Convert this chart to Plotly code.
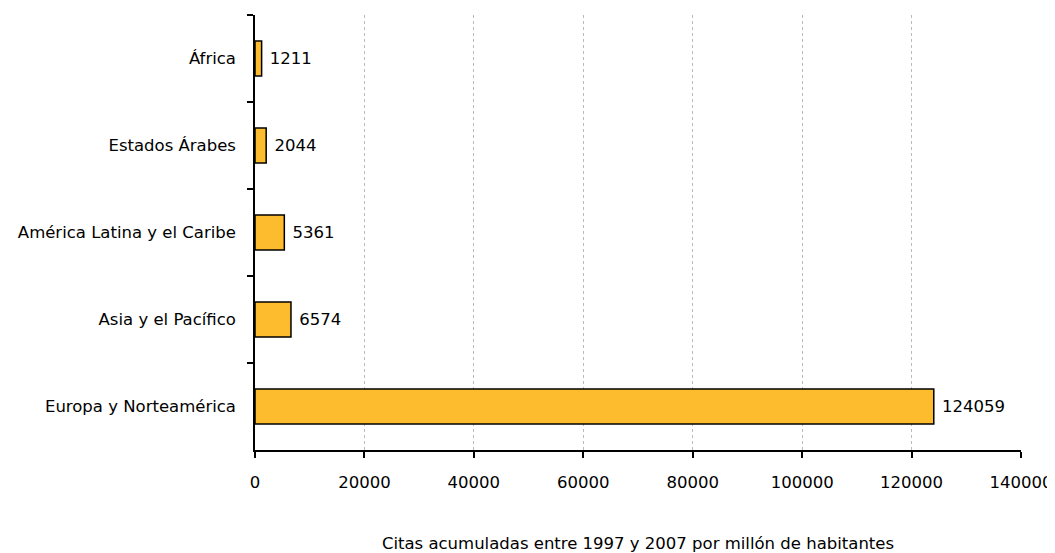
import plotly.graph_objects as go

regions = ["África", "Estados Árabes", "América Latina y el Caribe",
           "Asia y el Pacífico", "Europa y Norteamérica"]
values = [1211, 2044, 5361, 6574, 124059]
x_ticks = [0, 20000, 40000, 60000, 80000, 100000, 120000, 140000]
x_title = "Citas acumuladas entre 1997 y 2007 por millón de habitantes"

font_family = "DejaVu Sans, Verdana, sans-serif"
fs = 16.5

fig = go.Figure(go.Bar(
    y=regions,
    x=values,
    orientation="h",
    width=0.4,
    marker=dict(color="#FDBB2E", line=dict(color="#000000", width=1.5)),
    text=[" " + str(v) for v in values],
    textposition="outside",
    textfont=dict(family=font_family, size=fs, color="#000000"),
    cliponaxis=False,
))

fig.update_layout(
    width=1047, height=545,
    margin=dict(l=247, r=34, t=7, b=103),
    paper_bgcolor="white", plot_bgcolor="white",
    font=dict(family=font_family, size=fs, color="#000000"),
    showlegend=False,
    bargap=0.6,
)
fig.update_xaxes(
    range=[0, 140000],
    tickvals=x_ticks,
    ticktext=[str(t) for t in x_ticks],
    showgrid=True, gridcolor="#BBBBBB", griddash="dot", gridwidth=1,
    showline=True, linecolor="#000000", linewidth=1.5,
    ticks="outside", ticklen=6, tickcolor="#000000", tickwidth=1.5,
    zeroline=False, automargin=False,
    ticklabelstandoff=10, ticklabeloverflow="allow",
    title=dict(text=x_title, standoff=50, font=dict(size=fs)),
)
fig.update_yaxes(
    categoryorder="array", categoryarray=regions, autorange="reversed",
    showline=True, linecolor="#000000", linewidth=1.5,
    ticks="outside", ticklen=6, tickcolor="#000000", tickwidth=1.5,
    tickson="boundaries", showgrid=False, automargin=False,
    ticklabelstandoff=14,
)

fig.write_html("out.html")
